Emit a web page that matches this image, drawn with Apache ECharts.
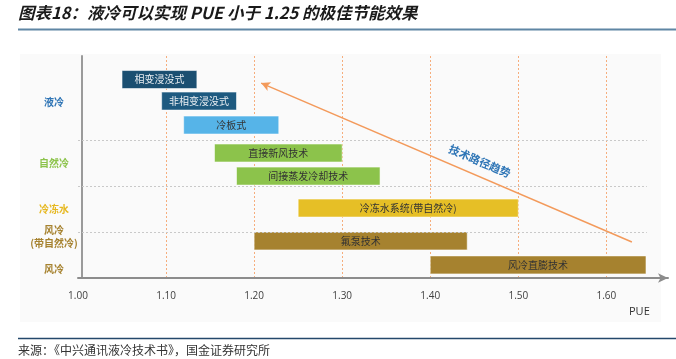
<!DOCTYPE html>
<html>
<head>
<meta charset="utf-8">
<script src="https://cdn.jsdelivr.net/npm/echarts@6/dist/echarts.min.js"></script>
<style>
html,body{margin:0;padding:0;background:#fff;}
#chart{width:676px;height:359px;}
</style>
</head>
<body>
<div id="chart"></div>
<script>
// ---- data ----
const groups = ['液冷', '自然冷', '冷冻水', '风冷\n(带自然冷)', '风冷'];
const groupLanes = [2.07, 4.82, 6.88, 8.15, 9.6];
const separators = [3.78, 5.88, 7.95];
const technologies = ['相变浸没式', '非相变浸没式', '冷板式', '直接新风技术', '间接蒸发冷却技术', '冷冻水系统(带自然冷)', '氟泵技术', '风冷直膨技术'];
const pueLow  = [1.05, 1.095, 1.12, 1.155, 1.18, 1.25, 1.20, 1.40];
const pueHigh = [1.135, 1.18, 1.228, 1.30, 1.343, 1.50, 1.442, 1.645];
const lanes = [1.06, 2.03, 3.11, 4.37, 5.41, 6.85, 8.33, 9.41];
const xTicks = [1.0, 1.1, 1.2, 1.3, 1.4, 1.5, 1.6];
const xMin = 1.0, xMax = 1.67;
const trendLabel = '技术路径趋势';
const trendFrom = [1.629, 8.38];
const trendTo = [1.208, 1.22];
const separatorEnd = 1.646;

// ---- style ----
const barColors = ['#1b4f71', '#1e5a80', '#56b4e8', '#8cc34b', '#8cc34b', '#e6bf26', '#a6822f', '#a6822f'];
const barTextColors = ['#e9eef2', '#e9eef2', '#333', '#333', '#333', '#333', '#333', '#333'];
const groupColors = ['#2e74b5', '#8cc34b', '#e6b820', '#a6822f', '#a6822f'];
const cjk = '"Noto Sans CJK SC", "Noto Sans", sans-serif';

const chart = echarts.init(document.getElementById('chart'), null, {renderer: 'canvas'});

const barData = technologies.map((t, i) => [pueLow[i], pueHigh[i], lanes[i], i]);
const groupData = groups.map((g, i) => [xMin, groupLanes[i], i]);

const option = {
  animation: false,
  backgroundColor: '#fff',
  grid: {left: 78, right: 8, top: 56, bottom: 81, containLabel: false},
  graphic: [
    {type: 'rect', z: -10, shape: {x: 20, y: 54, width: 641, height: 268}, style: {fill: '#fafafa'}},
    {type: 'text', left: 18, top: 4, style: {text: '图表18：液冷可以实现 PUE 小于 1.25 的极佳节能效果', font: 'italic bold 16.5px ' + cjk, fill: '#1a1a1a'}},
    {type: 'line', shape: {x1: 18, y1: 29.5, x2: 676, y2: 29.5}, style: {stroke: '#5f86a4', lineWidth: 2}},
    {type: 'text', left: 629, top: 306, style: {text: 'PUE', font: '11px "Open Sans", sans-serif', fill: '#333'}},
    {type: 'line', shape: {x1: 18, y1: 338.5, x2: 676, y2: 338.5}, style: {stroke: '#24486b', lineWidth: 1.5}},
    {type: 'text', left: 18, top: 344, style: {text: '来源：《中兴通讯液冷技术书》，国金证券研究所', font: '12px ' + cjk, fill: '#333'}}
  ],
  xAxis: {
    type: 'value', min: xMin, max: xMax, interval: 0.1,
    axisLine: {show: true, onZero: false, lineStyle: {color: '#8c8c8c', width: 2}, symbol: ['none', 'arrow'], symbolSize: [7, 10]},
    axisTick: {show: false},
    axisLabel: {
      showMaxLabel: false, margin: 13, color: '#404040', fontSize: 10, fontFamily: '"Open Sans", sans-serif',
      formatter: v => (xTicks.some(t => Math.abs(t - v) < 1e-6) ? v.toFixed(2) : '')
    },
    splitLine: {show: true, showMinLine: false, showMaxLine: false, lineStyle: {color: '#f6ad7c', type: [2, 2], width: 1}}
  },
  yAxis: {
    type: 'value', inverse: true, min: 0, max: 10, offset: -4,
    axisLine: {show: true, onZero: false, lineStyle: {color: '#9a9a9a', width: 2}},
    axisTick: {show: false}, axisLabel: {show: false}, splitLine: {show: false}
  },
  series: [
    {
      type: 'line', data: [], silent: true,
      markLine: {
        silent: true, symbol: ['none', 'none'], label: {show: false},
        lineStyle: {color: '#c9c9c9', type: [2, 2], width: 1},
        data: separators.map(s => [{coord: [xMin, s]}, {coord: [separatorEnd, s]}])
      }
    },
    {
      type: 'custom', clip: false, data: barData,
      encode: {x: [0, 1], y: 2},
      renderItem: function (params, api) {
        const i = api.value(3);
        const p0 = api.coord([api.value(0), api.value(2)]);
        const p1 = api.coord([api.value(1), api.value(2)]);
        const h = api.size([0, 0.81])[1];
        return {
          type: 'rect',
          shape: {x: p0[0], y: p0[1] - h / 2, width: p1[0] - p0[0], height: h},
          style: {fill: barColors[i], stroke: 'rgba(255,255,255,0.55)', lineWidth: 1},
          textContent: {style: {text: technologies[i], fill: barTextColors[i], font: '10px ' + cjk}},
          textConfig: {position: 'inside'}
        };
      }
    },
    {
      type: 'custom', clip: false, data: groupData,
      encode: {x: 0, y: 1},
      renderItem: function (params, api) {
        const i = api.value(2);
        const p = api.coord([api.value(0), api.value(1)]);
        return {
          type: 'text',
          style: {x: p[0] - 24, y: p[1], text: groups[i], fill: groupColors[i], font: 'bold 10px ' + cjk, align: 'center', verticalAlign: 'middle', lineHeight: 13}
        };
      }
    },
    {
      type: 'line', data: [], silent: true,
      markLine: {
        silent: true, symbol: ['none', 'arrow'], symbolSize: [7, 9],
        lineStyle: {color: '#f39a5b', type: 'solid', width: 1.5},
        label: {show: true, position: 'insideMiddleTop', distance: 9, formatter: trendLabel, color: '#2e75b6', fontWeight: 'bold', fontSize: 11, fontFamily: cjk, padding: [0, 0, 0, 60]},
        data: [[{coord: trendFrom}, {coord: trendTo}]]
      }
    }
  ]
};
chart.setOption(option);
</script>
</body>
</html>
